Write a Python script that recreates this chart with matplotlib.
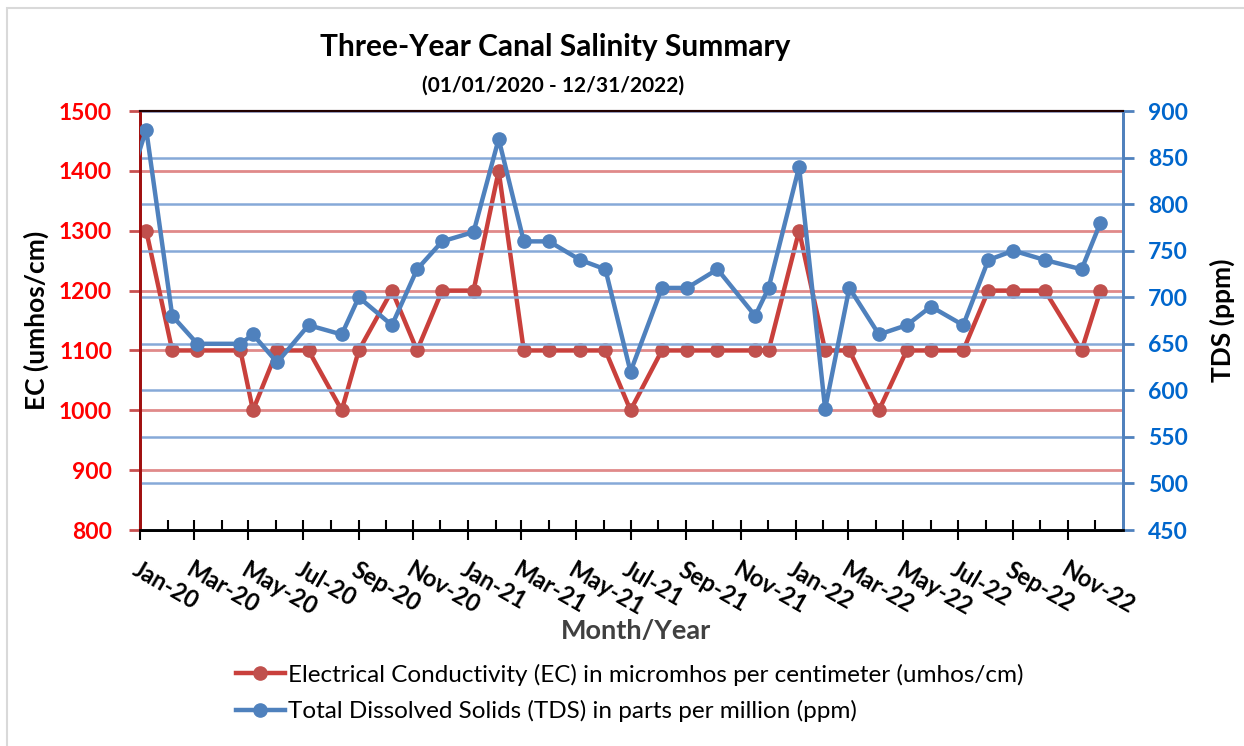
import numpy as np
import pandas as pd
import matplotlib
matplotlib.use('Agg')
import matplotlib.pyplot as plt
import matplotlib.dates as mdates
from matplotlib.patches import Rectangle
from matplotlib.lines import Line2D

plt.rcParams['font.family'] = ['Lato', 'DejaVu Sans']

# sampling dates (first one sits just before the axis start and is clipped)
sample_dates = ['2019-12-09', '2020-01-08', '2020-02-06', '2020-03-05', '2020-04-22',
                '2020-05-06', '2020-06-02', '2020-07-07', '2020-08-13', '2020-09-01',
                '2020-10-08', '2020-11-05', '2020-12-03', '2021-01-07', '2021-02-04',
                '2021-03-04', '2021-04-01', '2021-05-06', '2021-06-03', '2021-07-01',
                '2021-08-05', '2021-09-02', '2021-10-06', '2021-11-17', '2021-12-02',
                '2022-01-05', '2022-02-03', '2022-03-02', '2022-04-04', '2022-05-05',
                '2022-06-01', '2022-07-07', '2022-08-04', '2022-09-01', '2022-10-06',
                '2022-11-16', '2022-12-07']

ec_values = [np.nan, 1300, 1100, 1100, 1100, 1000, 1100, 1100, 1000, 1100, 1200,
             1100, 1200, 1200, 1400, 1100, 1100, 1100, 1100, 1000, 1100,
             1100, 1100, 1100, 1100, 1300, 1100, 1100, 1000, 1100, 1100,
             1100, 1200, 1200, 1200, 1100, 1200]

tds_values = [790, 880, 680, 650, 650, 660, 630, 670, 660, 700, 670,
              730, 760, 770, 870, 760, 760, 740, 730, 620, 710,
              710, 730, 680, 710, 840, 580, 710, 660, 670, 690,
              670, 740, 750, 740, 730, 780]

ec_ticks = [800, 900, 1000, 1100, 1200, 1300, 1400, 1500]
tds_ticks = [450, 500, 550, 600, 650, 700, 750, 800, 850, 900]

ec_label = 'Electrical Conductivity (EC) in micromhos per centimeter (umhos/cm)'
tds_label = 'Total Dissolved Solids (TDS) in parts per million (ppm)'

RED_LINE = '#C9403C'
RED_MARK = '#C0504D'
BLUE = '#4F81BD'

dates = pd.to_datetime(sample_dates)

fig = plt.figure(figsize=(12.44, 7.46), dpi=100)
ax = fig.add_axes([0.1125, 0.2895, 0.79, 0.5617])
ax2 = ax.twinx()

# grid lines
for v in ec_ticks:
    ax.axhline(v, color='#E08A8A', lw=2, zorder=0)
for v in tds_ticks:
    ax2.axhline(v, color='#86A9D8', lw=1.8, zorder=0)

ax.plot(dates, ec_values, color=RED_LINE, lw=3.2, marker='o', ms=9.5,
        mfc=RED_MARK, mec=RED_MARK, zorder=3)
ax2.plot(dates, tds_values, color=BLUE, lw=3.2, marker='o', ms=9.5,
         mfc=BLUE, mec=BLUE, zorder=3)

ax.set_xlim(pd.Timestamp('2020-01-01'), pd.Timestamp('2022-12-31 20:00'))
ax.set_ylim(800, 1500)
ax2.set_ylim(450, 900)
ax.set_yticks(ec_ticks)
ax2.set_yticks(tds_ticks)

ax.xaxis.set_major_locator(mdates.MonthLocator(bymonth=[1, 3, 5, 7, 9, 11]))
ax.xaxis.set_minor_locator(mdates.MonthLocator())
ax.xaxis.set_major_formatter(mdates.DateFormatter('%b-%y'))

ax.tick_params(axis='x', which='major', direction='inout', length=14, width=1.5,
               color='black', pad=13, labelsize=17)
ax.tick_params(axis='x', which='minor', direction='in', length=7, width=1.5, color='black')
for lbl in ax.get_xticklabels():
    lbl.set_rotation(-30)
    lbl.set_ha('left')
    lbl.set_va('top')
    lbl.set_rotation_mode('anchor')
    lbl.set_fontweight('bold')

ax.tick_params(axis='y', direction='out', length=8, width=2, color='#C85050',
               labelcolor='#FF0000', labelsize=16.5, pad=12)
ax2.tick_params(axis='y', direction='out', length=8, width=2, color=BLUE,
                labelcolor='#0066CC', labelsize=16.5, pad=10)
for lbl in ax.get_yticklabels() + ax2.get_yticklabels():
    lbl.set_fontweight('bold')

for a in (ax, ax2):
    a.spines['left'].set_color('#A01010')
    a.spines['left'].set_linewidth(2)
    a.spines['right'].set_color(BLUE)
    a.spines['right'].set_linewidth(2)
    a.spines['top'].set_color('#200000')
    a.spines['top'].set_linewidth(1.5)
    a.spines['bottom'].set_color('black')
    a.spines['bottom'].set_linewidth(2)

ax.set_ylabel('EC (umhos/cm)', fontsize=19, fontweight='bold')
ax.yaxis.set_label_coords(-0.093, 0.5)
ax2.set_ylabel('TDS (ppm)', fontsize=19, fontweight='bold')
ax2.yaxis.set_label_coords(1.088, 0.5)
ax.set_xlabel('Month/Year', fontsize=19.5, fontweight='bold', color='#404040')
ax.xaxis.set_label_coords(0.505, -0.213)

fig.text(0.4465, 1 - 47 / 746, 'Three-Year Canal Salinity Summary', ha='center',
         va='center', fontsize=21.5, fontweight='bold')
fig.text(0.4445, 1 - 86 / 746, '(01/01/2020 - 12/31/2022)', ha='center',
         va='center', fontsize=15, fontweight='bold')

handles = [Line2D([], [], color=RED_LINE, lw=3.2, marker='o', ms=9.5, mfc=RED_MARK, mec=RED_MARK),
           Line2D([], [], color=BLUE, lw=3.2, marker='o', ms=9.5, mfc=BLUE, mec=BLUE)]
fig.legend(handles, [ec_label, tds_label], loc='center',
           bbox_to_anchor=(630 / 1244, 1 - 693 / 746), frameon=False,
           fontsize=17.5, handlelength=2.0, handletextpad=0.15, labelspacing=0.6)

fig.add_artist(Rectangle((7 / 1244, -0.1), 1.2, 1 - 8 / 746 + 0.1, transform=fig.transFigure,
                         fill=False, edgecolor='#D9D9D9', lw=1.5))

plt.savefig('out.png', dpi=100, facecolor='white')
